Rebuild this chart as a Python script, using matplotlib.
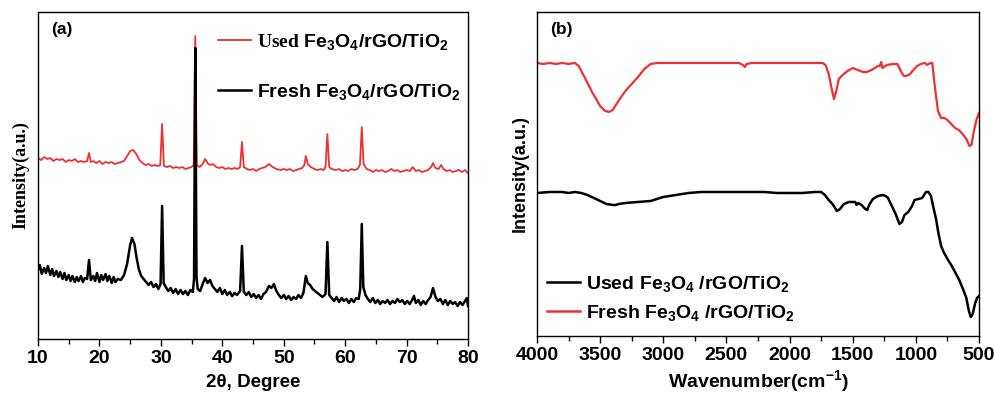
import matplotlib.pyplot as plt
from matplotlib.ticker import MultipleLocator

plt.rcParams["font.family"] = ["Liberation Sans", "DejaVu Sans"]
plt.rcParams["font.weight"] = "bold"
plt.rcParams["mathtext.fontset"] = "custom"
plt.rcParams["mathtext.rm"] = "Liberation Serif:bold"
plt.rcParams["mathtext.bf"] = "Liberation Sans:bold"
plt.rcParams["mathtext.default"] = "bf"

RED = "#f03030"

# --- (a) XRD: 2theta vs intensity (a.u.) ---
xrd_used_x = [
    10.0, 10.5, 11.0, 11.5, 12.0, 12.5, 13.0, 13.5, 14.0, 14.5, 15.0, 15.5, 16.0, 16.5,
    17.0, 17.5, 18.0, 18.3, 18.6, 19.0, 19.5, 20.0, 20.5, 21.0, 21.5, 22.0, 22.5, 23.0,
    23.5, 24.0, 24.5, 25.0, 25.5, 26.0, 26.5, 27.0, 27.5, 28.0, 28.5, 29.0, 29.5, 29.9,
    30.2, 30.5, 31.0, 31.5, 32.0, 32.5, 33.0, 33.5, 34.0, 34.5, 35.0, 35.35, 35.6, 35.85,
    36.3, 36.8, 37.2, 37.6, 38.0, 38.5, 39.0, 39.5, 40.0, 40.5, 41.0, 41.5, 42.0, 42.5,
    42.9, 43.2, 43.5, 44.0, 44.5, 45.0, 45.5, 46.0, 46.5, 47.0, 47.6, 48.2, 48.8, 49.5,
    50.0, 50.5, 51.0, 51.5, 52.0, 52.5, 53.0, 53.35, 53.6, 53.9, 54.4, 55.0, 55.5, 56.0,
    56.5, 56.8, 57.1, 57.4, 57.8, 58.5, 59.0, 59.5, 60.0, 60.5, 61.0, 61.5, 62.0, 62.4,
    62.7, 63.0, 63.5, 64.0, 64.5, 65.0, 65.5, 66.0, 66.5, 67.0, 67.5, 68.0, 68.5, 69.0,
    69.5, 70.0, 70.5, 71.0, 71.5, 72.0, 72.5, 73.0, 73.5, 74.0, 74.3, 74.7, 75.2, 75.6,
    76.0, 76.5, 77.0, 77.5, 78.0, 78.5, 79.0, 79.5, 80.0,
]
xrd_used_y = [
    181, 179, 182, 180, 181, 178, 180, 179, 180, 177, 179, 178, 180, 177,
    178, 177, 178, 186, 177, 178, 176, 178, 175, 177, 176, 177, 175, 176,
    177, 178, 183, 188, 189, 185, 179, 176, 174, 175, 173, 174, 173, 174,
    215, 173, 172, 173, 171, 172, 171, 172, 170, 171, 172, 174, 303, 174,
    172, 175, 180, 176, 174, 175, 172, 171, 172, 170, 171, 170, 171, 170,
    172, 197, 172, 170, 169, 170, 168, 170, 171, 172, 175, 172, 170, 169,
    170, 169, 170, 168, 169, 170, 171, 174, 183, 175, 172, 170, 169, 170,
    169, 172, 205, 172, 170, 169, 170, 168, 169, 168, 170, 169, 170, 174,
    212, 175, 170, 169, 167, 169, 168, 169, 167, 168, 170, 168, 169, 167,
    168, 169, 168, 172, 168, 169, 167, 168, 169, 172, 176, 171, 170, 174,
    170, 168, 169, 167, 168, 169, 167, 169, 166,
]

xrd_fresh_x = [
    10.0, 10.3, 10.6, 11.0, 11.3, 11.6, 12.0, 12.3, 12.6, 13.0, 13.3, 13.6, 14.0, 14.3,
    14.6, 15.0, 15.3, 15.6, 16.0, 16.3, 16.6, 17.0, 17.3, 17.6, 18.0, 18.3, 18.6, 19.0,
    19.3, 19.6, 20.0, 20.3, 20.6, 21.0, 21.3, 21.6, 22.0, 22.3, 22.6, 23.0, 23.5, 24.0,
    24.5, 25.0, 25.3, 25.7, 26.0, 26.4, 26.8, 27.2, 27.6, 28.0, 28.4, 28.8, 29.2, 29.6,
    29.95, 30.2, 30.45, 30.8, 31.2, 31.6, 32.0, 32.4, 32.8, 33.2, 33.6, 34.0, 34.4, 34.8,
    35.2, 35.4, 35.6, 35.8, 36.0, 36.4, 36.8, 37.2, 37.6, 38.0, 38.4, 38.8, 39.2, 39.6,
    40.0, 40.4, 40.8, 41.2, 41.6, 42.0, 42.4, 42.9, 43.2, 43.5, 43.9, 44.3, 44.7, 45.1,
    45.5, 45.9, 46.3, 46.7, 47.1, 47.6, 48.0, 48.4, 48.8, 49.2, 49.6, 50.0, 50.4, 50.8,
    51.2, 51.6, 52.0, 52.4, 52.8, 53.2, 53.6, 53.9, 54.3, 54.7, 55.1, 55.5, 55.9, 56.3,
    56.8, 57.1, 57.4, 57.8, 58.2, 58.6, 59.0, 59.4, 59.8, 60.2, 60.6, 61.0, 61.4, 61.8,
    62.2, 62.45, 62.7, 62.95, 63.3, 63.7, 64.1, 64.5, 64.9, 65.3, 65.7, 66.1, 66.5, 66.9,
    67.3, 67.7, 68.1, 68.5, 68.9, 69.3, 69.7, 70.1, 70.5, 70.9, 71.2, 71.5, 71.9, 72.3,
    72.7, 73.1, 73.5, 73.9, 74.3, 74.7, 75.1, 75.5, 75.9, 76.3, 76.7, 77.1, 77.5, 77.9,
    78.3, 78.7, 79.1, 79.5, 79.8, 80.0,
]
xrd_fresh_y = [
    69, 74, 65, 71, 66, 73, 64, 70, 63, 68, 62, 67, 60, 66,
    59, 64, 58, 63, 57, 62, 58, 63, 57, 61, 60, 79, 59, 63,
    58, 66, 57, 64, 59, 65, 58, 63, 56, 62, 57, 60, 59, 64,
    75, 94, 101, 95, 83, 70, 63, 60, 57, 54, 57, 52, 55, 50,
    55, 133, 56, 52, 48, 51, 46, 50, 45, 49, 45, 48, 44, 49,
    47, 60, 291, 62, 50, 48, 55, 61, 56, 59, 53, 50, 47, 51,
    45, 49, 44, 47, 43, 46, 44, 48, 93, 47, 44, 47, 42, 45,
    41, 44, 40, 45, 47, 53, 51, 55, 48, 44, 41, 44, 40, 43,
    39, 42, 40, 44, 41, 46, 63, 56, 54, 50, 48, 46, 44, 42,
    45, 97, 44, 41, 38, 42, 37, 41, 38, 40, 36, 40, 37, 41,
    40, 50, 115, 52, 44, 40, 37, 41, 36, 39, 35, 38, 36, 39,
    35, 38, 36, 40, 37, 39, 35, 38, 35, 39, 43, 36, 39, 34,
    38, 35, 39, 42, 51, 42, 38, 40, 35, 39, 34, 38, 35, 37,
    33, 37, 34, 38, 41, 33,
]

# --- (b) FTIR: wavenumber vs intensity (a.u.) ---
ftir_fresh_x = [
    4000, 3950, 3900, 3850, 3800, 3750, 3700, 3670, 3620, 3560, 3500, 3460, 3430, 3400,
    3350, 3300, 3250, 3200, 3150, 3100, 3050, 3000, 2900, 2800, 2700, 2600, 2500, 2400,
    2370, 2355, 2340, 2300, 2200, 2100, 2000, 1900, 1800, 1740, 1715, 1690, 1665, 1648,
    1630, 1610, 1580, 1540, 1500, 1460, 1420, 1390, 1350, 1300, 1285, 1275, 1265, 1230,
    1180, 1145, 1120, 1095, 1075, 1045, 1020, 990, 960, 930, 910, 885, 870, 850,
    825, 800, 775, 750, 720, 690, 660, 630, 600, 575, 560, 540, 520, 500,
]
ftir_fresh_y = [
    273, 272, 273, 272, 273, 272, 273, 270, 258, 243, 230, 225, 224, 226,
    236, 245, 252, 259, 267, 272, 273, 273, 273, 273, 273, 273, 273, 273,
    271, 269, 272, 273, 273, 273, 273, 273, 273, 273, 271, 262, 246, 237,
    245, 257, 261, 265, 268, 266, 264, 264, 266, 270, 270, 274, 268, 271,
    272, 272, 265, 260, 260, 262, 266, 270, 272, 273, 271, 273, 273, 250,
    225, 218, 218, 216, 212, 208, 206, 202, 197, 190, 191, 205, 216, 223,
]

ftir_used_x = [
    4000, 3900, 3800, 3750, 3700, 3650, 3600, 3550, 3500, 3450, 3400, 3380, 3350, 3300,
    3200, 3100, 3000, 2900, 2800, 2700, 2600, 2500, 2400, 2300, 2200, 2100, 2000, 1900,
    1800, 1750, 1720, 1690, 1660, 1625, 1600, 1570, 1530, 1480, 1470, 1455, 1430, 1400,
    1385, 1370, 1340, 1300, 1260, 1240, 1220, 1190, 1160, 1130, 1110, 1090, 1060, 1030,
    1010, 980, 950, 920, 900, 880, 860, 840, 820, 800, 780, 750, 720, 690,
    660, 630, 600, 580, 565, 550, 530, 515, 500,
]
ftir_used_y = [
    143, 144, 144, 143, 144, 143, 141, 138, 135, 132, 131, 131, 132, 133,
    134, 135, 139, 141, 143, 144, 144, 144, 144, 144, 144, 143, 143, 143,
    144, 144, 141, 136, 132, 125, 127, 132, 134, 134, 131, 133, 131, 127,
    126, 131, 137, 140, 141, 140, 138, 130, 122, 112, 114, 121, 124, 130,
    136, 137, 138, 144, 144, 140, 128, 117, 102, 90, 84, 77, 71, 64,
    57, 48, 38, 25, 19, 22, 33, 38, 40,
]

LEG_A = [r"$\mathrm{Used}$ Fe$_3$O$_4$/rGO/TiO$_2$", "Fresh Fe$_3$O$_4$/rGO/TiO$_2$"]
LEG_B = ["Used Fe$_3$O$_4$ /rGO/TiO$_2$", "Fresh Fe$_3$O$_4$ /rGO/TiO$_2$"]


def style_axes(ax):
    ax.tick_params(axis="x", which="major", direction="out", length=5, width=1,
                   labelsize=14, pad=3)
    ax.tick_params(axis="x", which="minor", direction="out", length=3.5, width=1)
    ax.tick_params(axis="y", left=False, labelleft=False)
    for label in ax.get_xticklabels():
        label.set_fontweight("bold")
    for spine in ax.spines.values():
        spine.set_linewidth(1.0)


fig = plt.figure(figsize=(9.95, 3.98), dpi=100)

ax1 = fig.add_axes([0.0382, 0.1482, 0.4322, 0.8216])
ax1.plot(xrd_used_x, xrd_used_y, color=RED, lw=1.3, label=LEG_A[0])
ax1.plot(xrd_fresh_x, xrd_fresh_y, color="black", lw=1.8, label=LEG_A[1])
ax1.set_xlim(10, 80)
ax1.set_ylim(0, 327)
ax1.xaxis.set_major_locator(MultipleLocator(10))
ax1.xaxis.set_minor_locator(MultipleLocator(5))
style_axes(ax1)
ax1.set_xlabel("2θ, Degree", fontsize=13.5, fontweight="bold", labelpad=5)
ax1.set_ylabel("Intensity(a.u.)", fontsize=13, fontweight="bold",
               family="Liberation Serif", labelpad=6)
ax1.text(0.03, 0.97, "(a)", transform=ax1.transAxes, fontsize=12.5,
         fontweight="bold", va="top", ha="left")
ax1.legend(loc="upper left", bbox_to_anchor=(0.418, 0.94), frameon=False,
           fontsize=14, handlelength=1.7, handletextpad=0.3, labelspacing=1.55,
           borderpad=0, borderaxespad=0)

ax2 = fig.add_axes([0.5397, 0.1558, 0.4442, 0.8141])
ax2.plot(ftir_fresh_x, ftir_fresh_y, color=RED, lw=1.6)
ax2.plot(ftir_used_x, ftir_used_y, color="black", lw=1.8)
ax2.set_xlim(4000, 500)
ax2.set_ylim(0, 324)
ax2.xaxis.set_major_locator(MultipleLocator(500))
ax2.xaxis.set_minor_locator(MultipleLocator(250))
style_axes(ax2)
ax2.set_xlabel("Wavenumber(cm$^{-1}$)", fontsize=14, fontweight="bold", labelpad=3)
ax2.set_ylabel("Intensity(a.u.)", fontsize=13, fontweight="bold", labelpad=6)
ax2.text(0.03, 0.97, "(b)", transform=ax2.transAxes, fontsize=12.5,
         fontweight="bold", va="top", ha="left")
h_used, = ax2.plot([], [], color="black", lw=1.8)
h_fresh, = ax2.plot([], [], color=RED, lw=1.8)
ax2.legend([h_used, h_fresh], LEG_B, loc="lower left", bbox_to_anchor=(0.022, 0.04),
           frameon=False, fontsize=14, handlelength=1.7, handletextpad=0.3,
           labelspacing=0.45, borderpad=0, borderaxespad=0)

fig.savefig("out.png", dpi=100)
